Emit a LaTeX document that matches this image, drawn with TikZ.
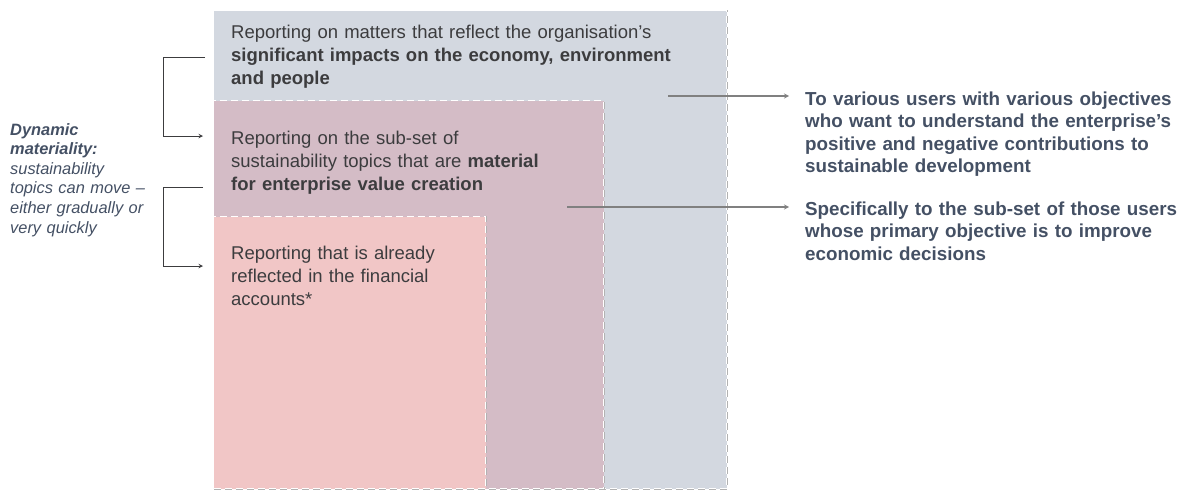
\documentclass[tikz,border=0pt]{standalone}
\usepackage{fontspec}
\setmainfont{Liberation Sans}
\usetikzlibrary{arrows}
\definecolor{outerfill}{RGB}{211,216,224}
\definecolor{midfill}{RGB}{212,188,198}
\definecolor{innerfill}{RGB}{241,198,198}
\definecolor{boxink}{RGB}{60,60,62}
\definecolor{sideink}{RGB}{68,80,100}
\definecolor{arrowgrey}{RGB}{128,128,128}
\tikzstyle{layer} = [rectangle, anchor=north west, inner sep=0pt, preaction={fill, draw=gray!60, line width=2.2pt}, draw=white, line width=1.3pt, dash pattern=on 7pt off 4pt]
\tikzstyle{outerbox} = [layer, fill=outerfill]
\tikzstyle{midbox} = [layer, fill=midfill]
\tikzstyle{innerbox} = [layer, fill=innerfill]
\tikzstyle{boxtext} = [anchor=base west, inner sep=0pt, align=left, text=boxink, font=\fontsize{18.5}{23}\selectfont]
\tikzstyle{sidetext} = [anchor=base west, inner sep=0pt, align=left, text=sideink, font=\fontsize{16.4}{19.6}\selectfont\itshape]
\tikzstyle{usertext} = [anchor=base west, inner sep=0pt, align=left, text=sideink, font=\fontsize{18.8}{22.5}\selectfont\bfseries]
\tikzstyle{arrow} = [line width=1.2pt, draw=arrowgrey, ->, >=stealth, shorten >=16pt]
\tikzstyle{bracket} = [line width=1pt, draw=boxink, ->, >=stealth]

\begin{document}
\begin{tikzpicture}[x=1pt, y=-1pt]
	\useasboundingbox (0,0) rectangle (1186,490);
	% nested materiality boxes
	\node (outer) [outerbox, minimum width=513pt, minimum height=478pt] at (213,10) {};
	\node (mid) [midbox, minimum width=390pt, minimum height=388pt] at (213,100) {};
	\node (inner) [innerbox, minimum width=272pt, minimum height=272pt] at (213,216) {};
	\node (impacts) [boxtext, text width=480pt] at (231,38) {Reporting on matters that reflect the organisation’s\\\textbf{significant impacts on the economy, environment}\\\textbf{and people}};
	\node (value) [boxtext, text width=360pt] at (231,144) {Reporting on the sub-set of\\sustainability topics that are \textbf{material}\\\textbf{for enterprise value creation}};
	\node (financial) [boxtext, text width=250pt] at (231,259) {Reporting that is already\\reflected in the financial\\accounts*};
	% left side
	\node (dynamic) [sidetext, text width=150pt] at (10,135) {\textbf{Dynamic}\\\textbf{materiality:}\\sustainability\\topics can move –\\either gradually or\\very quickly};
	\coordinate (b1) at (205,57);
	\coordinate (b1end) at (203,136);
	\coordinate (b2) at (203,187);
	\coordinate (b2end) at (203,266);
	\draw [bracket] (b1) -- ++(-42,0) |- (b1end);
	\draw [bracket] (b2) -- ++(-40,0) |- (b2end);
	% right side
	\node (users) [usertext, text width=380pt] at (805,105) {To various users with various objectives\\who want to understand the enterprise’s\\positive and negative contributions to\\sustainable development};
	\node (investors) [usertext, text width=380pt] at (805,215) {Specifically to the sub-set of those users\\whose primary objective is to improve\\economic decisions};
	\coordinate (impactsout) at (668,96);
	\coordinate (valueout) at (567,207);
	\draw [arrow] (impactsout) -- (impactsout -| users.west);
	\draw [arrow] (valueout) -- (valueout -| investors.west);
\end{tikzpicture}
\end{document}
